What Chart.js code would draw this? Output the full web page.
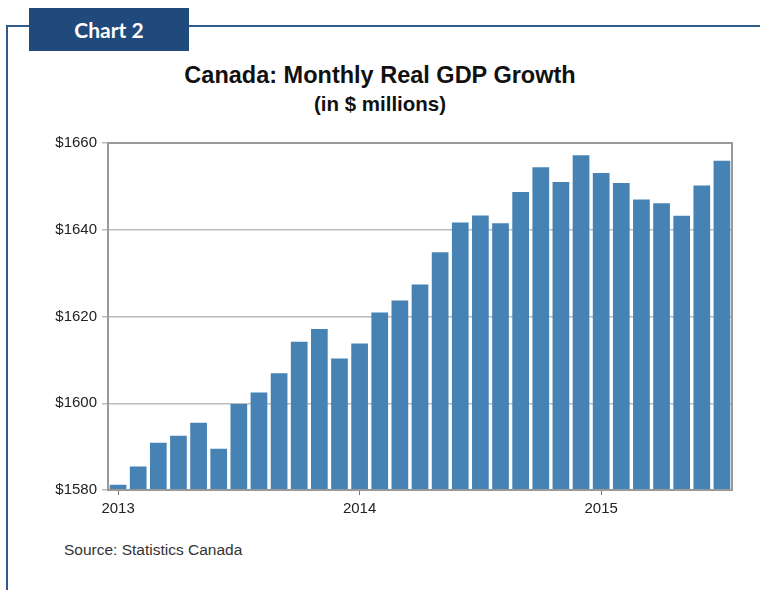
<!DOCTYPE html>
<html>
<head>
<meta charset="utf-8">
<script src="https://cdn.jsdelivr.net/npm/chart.js@4.4.0/dist/chart.umd.min.js"></script>
<style>
  body { margin: 0; background: #fff; }
  #page { position: relative; width: 760px; height: 590px; overflow: hidden; font-family: "Liberation Sans", Arial, sans-serif; }
  .hline { position: absolute; left: 6px; top: 25px; width: 760px; height: 2px; background: #2f5b8f; }
  .vline { position: absolute; left: 6px; top: 25px; width: 2px; height: 570px; background: #2f5b8f; }
  .tag { position: absolute; left: 29px; top: 8px; width: 160px; height: 43px; background: #214a7c;
         color: #fff; font: bold 21px Lato, sans-serif; text-align: center; line-height: 43px; }
  .title { position: absolute; left: 0; width: 760px; text-align: center; font-weight: bold; color: #111; }
  .source { position: absolute; left: 64px; top: 541px; font-size: 15.5px; color: #333; }
  #wrap { position: absolute; left: 0; top: 120px; width: 760px; height: 410px; }
</style>
</head>
<body>
<div id="page">
  <div class="hline"></div>
  <div class="vline"></div>
  <div class="tag">Chart 2</div>
  <div class="title" style="top:62px;font-size:23.5px;">Canada: Monthly Real GDP Growth</div>
  <div class="title" style="top:92px;font-size:20.5px;">(in $ millions)</div>
  <div id="wrap"><canvas id="gdpChart"></canvas></div>
  <div class="source">Source: Statistics Canada</div>
</div>
<script>
// Monthly real GDP, Jan 2013 - Jul 2015
const months = [
  "2013-01","2013-02","2013-03","2013-04","2013-05","2013-06","2013-07","2013-08","2013-09","2013-10","2013-11","2013-12",
  "2014-01","2014-02","2014-03","2014-04","2014-05","2014-06","2014-07","2014-08","2014-09","2014-10","2014-11","2014-12",
  "2015-01","2015-02","2015-03","2015-04","2015-05","2015-06","2015-07"
];
const gdp = [
  1581.2, 1585.4, 1590.9, 1592.5, 1595.5, 1589.5, 1599.8, 1602.5, 1606.9, 1614.2, 1617.1, 1610.3,
  1613.8, 1620.9, 1623.7, 1627.4, 1634.8, 1641.7, 1643.3, 1641.5, 1648.7, 1654.4, 1651.0, 1657.2,
  1653.1, 1650.8, 1647.0, 1646.1, 1643.2, 1650.2, 1655.9
];
const yTicks = [1580, 1600, 1620, 1640, 1660];

// plot frame (right side + top)
const frame = {
  id: "frame",
  afterDraw(chart) {
    const { ctx, chartArea: a } = chart;
    ctx.save();
    ctx.strokeStyle = "#999";
    ctx.lineWidth = 2;
    ctx.strokeRect(a.left, a.top, a.right - a.left, a.bottom - a.top);
    ctx.restore();
  }
};

const el = document.getElementById("gdpChart");
new Chart(el, {
  type: "bar",
  data: {
    labels: months,
    datasets: [{
      data: gdp,
      backgroundColor: "#4682b4",
      categoryPercentage: 1,
      barPercentage: 0.83
    }]
  },
  options: {
    responsive: true,
    maintainAspectRatio: false,
    animation: false,
    layout: { padding: { top: 23, right: 28, left: 0, bottom: 0 } },
    plugins: { legend: { display: false }, tooltip: { enabled: false } },
    scales: {
      x: {
        afterFit: s => { s.height = 40; },
        grid: {
          offset: false,
          drawOnChartArea: false,
          tickLength: 5,
          color: c => (c.tick && c.tick.label) ? "#777" : "rgba(0,0,0,0)"
        },
        border: { color: "#999", width: 2 },
        ticks: {
          autoSkip: false,
          maxRotation: 0,
          padding: 5,
          color: "#222",
          font: { family: "Liberation Sans", size: 15 },
          callback: function (v, i) {
            const m = months[i];
            return m.endsWith("-01") ? m.slice(0, 4) : "";
          }
        }
      },
      y: {
        min: yTicks[0],
        max: yTicks[yTicks.length - 1],
        afterFit: s => { s.width = 108; },
        afterBuildTicks: s => { s.ticks = yTicks.map(v => ({ value: v })); },
        grid: { color: "#bbb", lineWidth: 1.5, tickLength: 6 },
        border: { color: "#999", width: 2 },
        ticks: {
          padding: 5,
          color: "#222",
          font: { family: "Liberation Sans", size: 15 },
          callback: v => "$" + v
        }
      }
    }
  },
  plugins: [frame]
});
</script>
</body>
</html>
